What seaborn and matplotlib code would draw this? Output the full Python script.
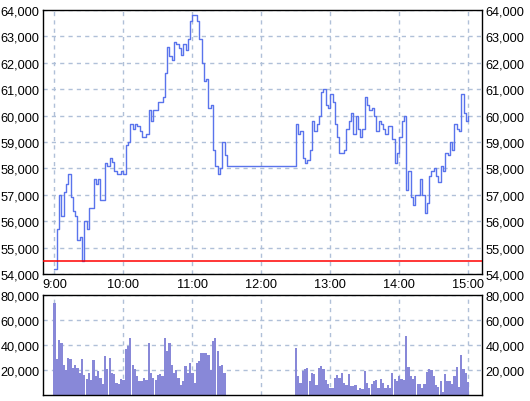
import numpy as np
import pandas as pd
import matplotlib
matplotlib.use("Agg")
import matplotlib.pyplot as plt
import seaborn as sns
from matplotlib.ticker import FixedLocator, FuncFormatter

sns.set_theme(style="white")
plt.rcParams['font.family'] = ['Liberation Sans', 'DejaVu Sans']
plt.rcParams['font.size'] = 9.2

# ---- data -------------------------------------------------------------
# morning session prices, 2-minute steps from 9:00 to 11:30
am_prices = [54200, 55700, 57000, 56200, 57100, 57400, 57800, 56900, 56400, 56200,
             55300, 55400, 54500, 56000, 55700, 56500, 56500, 57600, 57400, 57600,
             56800, 56800, 58200, 58100, 58400, 58250, 57900, 57800, 57800, 57900,
             57800, 58900, 59000, 59700, 59500, 59700, 59600, 59400, 59200, 59200,
             59300, 60200, 59800, 60200, 60200, 60500, 60500, 60700, 61600, 62600,
             62250, 62100, 62800, 62700, 62550, 62300, 62700, 62500, 62900, 63600,
             63800, 63800, 63600, 62900, 62000, 61300, 61400, 60300, 60400, 58700,
             58100, 57800, 58000, 59000, 58500, 58100]
# afternoon session prices, 2-minute steps from 12:30 to 15:00
pm_prices = [59700, 59300, 59400, 58400, 58200, 58300, 58700, 59800, 59400, 59700,
             60000, 60900, 61000, 60400, 60300, 60800, 60500, 59700, 59200, 58600,
             58600, 58700, 59500, 59800, 60100, 59300, 60000, 59500, 59200, 59500,
             60700, 60400, 60200, 60300, 60000, 59400, 59800, 59700, 59500, 59300,
             59600, 59600, 59100, 58200, 58600, 59200, 59800, 60000, 57200, 57900,
             56900, 56600, 57000, 57000, 57600, 57000, 56300, 56700, 57700, 57900,
             58000, 57700, 57500, 58100, 57900, 58600, 58500, 59000, 58700, 59700,
             59500, 59400, 60800, 60100, 59800, 60000]
# volumes, morning 9:00-11:28 and afternoon 12:30-15:00
am_volume = [74000, 29000, 44000, 42000, 24000, 20000, 30000, 29000, 22000, 24000,
             22000, 18000, 29000, 16000, 13000, 18000, 12000, 28000, 15000, 19000,
             14000, 9000, 31000, 21000, 30000, 18000, 17000, 10000, 9000, 13000,
             12000, 37000, 39000, 46000, 24000, 21000, 15000, 11000, 11000, 14000,
             12000, 42000, 18000, 14000, 12000, 16000, 17000, 15000, 46000, 35000,
             42000, 24000, 18000, 20000, 14000, 8000, 11000, 23000, 18000, 26000,
             18000, 10000, 26000, 27000, 34000, 34000, 34000, 32000, 20000, 43000,
             46000, 35000, 23000, 24000, 18000]
pm_volume = [38000, 15000, 10000, 19000, 21000, 22000, 11000, 18000, 17000, 8000,
             22000, 23000, 21000, 12000, 9000, 6000, 6000, 14000, 16000, 14000,
             18000, 10000, 8000, 17000, 7000, 7000, 8000, 4000, 6000, 5000,
             19000, 10000, 6000, 9000, 11000, 12000, 6000, 13000, 10000, 6000,
             8000, 6000, 18000, 13000, 11000, 15000, 13000, 12000, 47000, 22600,
             15400, 13000, 15400, 9000, 9000, 5800, 9000, 18600, 21000, 20200,
             15400, 8200, 6600, 11400, 2600, 17000, 11400, 11400, 9000, 15400,
             22600, 6600, 32200, 21000, 17800, 10600]
ref_price = 54500
hour_labels = ["9:00", "10:00", "11:00", "12:00", "13:00", "14:00", "15:00"]

# time grid: minutes after 9:00
am_price_t = np.arange(0, 2 * len(am_prices), 2)
pm_price_t = np.arange(210, 210 + 2 * len(pm_prices), 2)
am_vol_t = np.arange(0, 2 * len(am_volume), 2)
pm_vol_t = np.arange(210, 210 + 2 * len(pm_volume), 2)

price_df = pd.DataFrame({
    "t": np.concatenate([am_price_t, pm_price_t]),
    "price": am_prices + pm_prices,
})
vol_df = pd.DataFrame({
    "t": np.concatenate([am_vol_t, pm_vol_t]),
    "volume": am_volume + pm_volume,
})

# ---- styling -----------------------------------------------------------
W, H = 530, 402
line_col = "#5a74ec"
bar_col = "#8888d8"
grid_col = "#b0c0d8"
left, right = 43, 482

fig = plt.figure(figsize=(W / 100, H / 100), dpi=100)
fig.patch.set_facecolor("white")
ax1 = fig.add_axes([left / W, (H - 275) / H, (right - left) / W, (275 - 11) / H])
ax2 = fig.add_axes([left / W, (H - 396) / H, (right - left) / W, (396 - 296) / H])

sns.lineplot(data=price_df, x="t", y="price", drawstyle="steps-post",
             estimator=None, color=line_col, linewidth=1.0, ax=ax1)
ax1.axhline(ref_price, color="red", linewidth=1.1, zorder=3)

sns.barplot(data=vol_df, x="t", y="volume", native_scale=True, width=0.97,
            color=bar_col, saturation=1, linewidth=0, errorbar=None, ax=ax2)

hour_ticks = [60 * i for i in range(len(hour_labels))]
fmt = FuncFormatter(lambda v, p: f"{int(v):,}")

for ax in (ax1, ax2):
    ax.set_xlim(-10, 372)
    ax.set_xlabel("")
    ax.set_ylabel("")
    ax.set_facecolor("white")
    for s in ax.spines.values():
        s.set_color("black")
        s.set_linewidth(1.0)
    ax.grid(True, color=grid_col, linestyle=(0, (3, 3)), linewidth=1.0)
    ax.set_axisbelow(True)
    ax.xaxis.set_major_locator(FixedLocator(hour_ticks))
    ax.yaxis.set_major_formatter(fmt)
    ax.tick_params(axis="y", which="both", left=True, right=True,
                   labelleft=True, labelright=True, length=0, pad=2.5,
                   labelsize=9.2, colors="black")
    ax.tick_params(axis="x", length=0)

ax1.set_ylim(54000, 64000)
ax1.yaxis.set_major_locator(FixedLocator(list(range(54000, 64001, 1000))))
ax1.set_xticklabels(hour_labels)
ax1.tick_params(axis="x", pad=3, labelsize=9.2, colors="black")

ax2.set_ylim(0, 80000)
ax2.yaxis.set_major_locator(FixedLocator([20000, 40000, 60000, 80000]))
ax2.set_xticklabels([])

fig.savefig("out.png", dpi=100, facecolor="white")
